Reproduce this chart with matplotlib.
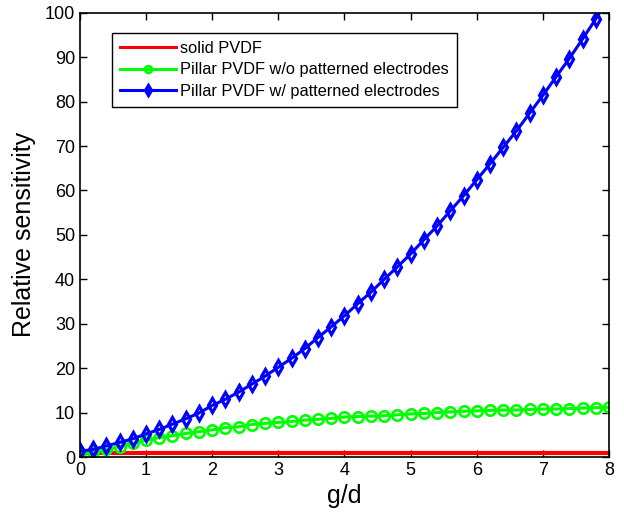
import numpy as np
import matplotlib
matplotlib.use("Agg")
import matplotlib.pyplot as plt

plt.rcParams['font.family'] = ['Liberation Sans', 'DejaVu Sans']

# g/d values
x_green = np.round(np.arange(0, 8.01, 0.2), 1)
x_blue = np.round(np.arange(0, 8.01, 0.2), 1)

# solid PVDF - constant
x_red = [0, 8]
y_red = [1, 1]

# pillar PVDF w/o patterned electrodes
y_green = [0.8, 1.1, 1.7, 2.3, 3.1, 3.8, 4.35, 4.8, 5.3, 5.7,
           6.1, 6.6, 6.8, 7.3, 7.6, 7.8, 8.0, 8.3, 8.5, 8.7,
           9.0, 9.1, 9.2, 9.3, 9.5, 9.7, 9.8, 10.0, 10.15, 10.3,
           10.4, 10.5, 10.6, 10.6, 10.7, 10.8, 10.8, 10.9, 11.0, 11.1,
           11.2]

# pillar PVDF w/ patterned electrodes (last point is above the axis limit)
y_blue = [1.3, 1.7, 2.5, 3.3, 4.1, 5.2, 6.2, 7.4, 8.6, 9.9,
          11.6, 13.0, 14.6, 16.4, 18.2, 20.2, 22.2, 24.4, 26.9, 29.3,
          31.8, 34.5, 37.1, 40.0, 42.8, 45.7, 48.9, 52.0, 55.4, 58.8,
          62.4, 66.0, 69.7, 73.4, 77.4, 81.4, 85.6, 89.7, 94.1, 98.6,
          103.3]

fig = plt.figure(figsize=(6.24, 5.16), dpi=100)
ax = fig.add_axes([0.128, 0.1143, 0.848, 0.861])

ax.plot(x_red, y_red, color=(1, 0, 0), lw=3, label='solid PVDF')
ax.plot(x_green, y_green, color=(0, 1, 0), lw=2.2, marker='o', ms=7.5,
        mfc='none', mew=1.9, label='Pillar PVDF w/o patterned electrodes')
ax.plot(x_blue, y_blue, color=(0, 0, 1), lw=2.2, marker='d', ms=7.2,
        mfc='none', mew=2.3, label='Pillar PVDF w/ patterned electrodes')

ax.set_xlim(0, 8)
ax.set_ylim(0, 100)
ax.set_xticks(range(0, 9))
ax.set_yticks(range(0, 101, 10))
ax.tick_params(direction='in', top=True, right=True, labelsize=13,
               length=5, width=1)
for s in ax.spines.values():
    s.set_linewidth(1.2)

ax.set_xlabel('g/d', fontsize=18, labelpad=4)
ax.set_ylabel('Relative sensitivity', fontsize=18, labelpad=6)

leg = ax.legend(loc='upper left', bbox_to_anchor=(0.06, 0.955), fontsize=11.8,
                numpoints=1, handlelength=3.4, fancybox=False, framealpha=1,
                edgecolor='black', borderpad=0.5, labelspacing=0.4,
                handletextpad=0.3, borderaxespad=0)
leg.get_frame().set_linewidth(1)
for h in leg.legend_handles:
    h.set_markersize(5)
    h.set_linewidth(2.2)

fig.savefig('out.png', dpi=100)
